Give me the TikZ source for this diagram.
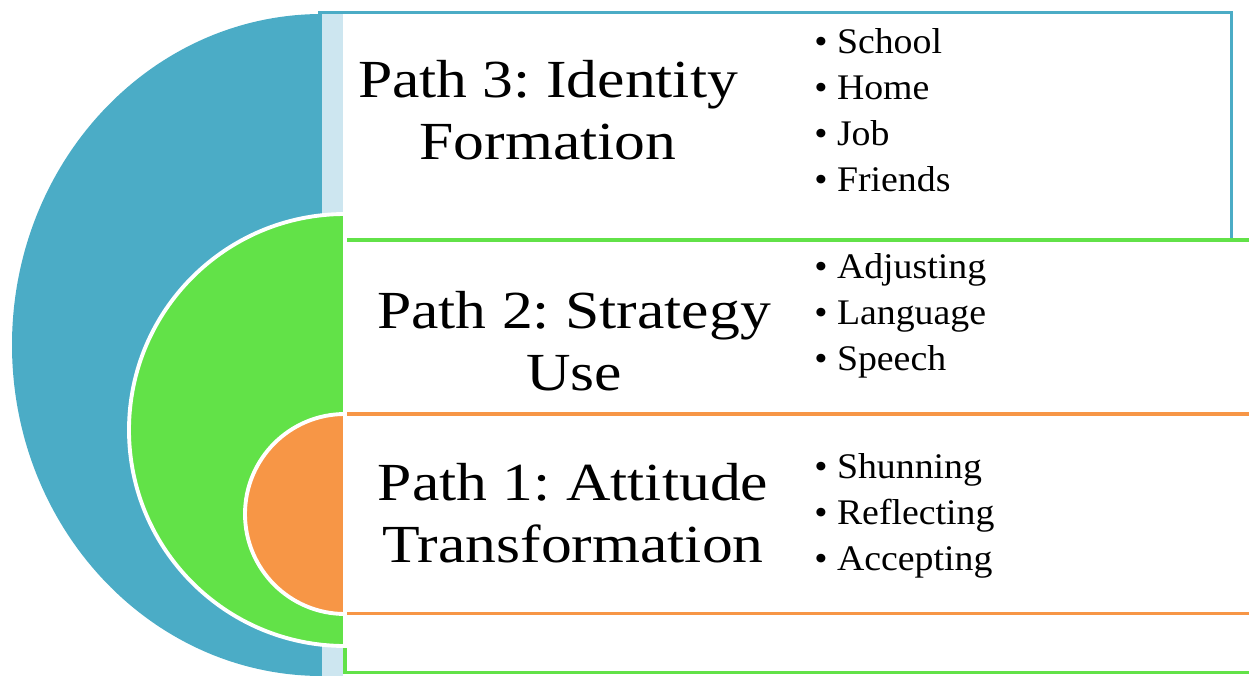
\documentclass[tikz,border=0pt]{standalone}
\usepackage{fontspec}
\setmainfont{Liberation Serif}
\newfontfamily\titlefont{Liberation Serif}[FakeStretch=1.15]
\newfontfamily\itemfont{Liberation Serif}[FakeStretch=1.05]
\usepackage{tikz}
\usetikzlibrary{positioning}
\definecolor{azul}{RGB}{75,172,198}
\definecolor{azulClaro}{RGB}{205,230,240}
\definecolor{verde}{RGB}{98,226,72}
\definecolor{naranja}{RGB}{247,150,70}
\tikzstyle{marco}=[line width=2.2pt]
\tikzstyle{disco}=[draw=white, line width=2.2pt]
\tikzstyle{titulo}=[align=center, inner sep=0pt,
                    font=\titlefont\frenchspacing\fontsize{30.5}{35}\selectfont]
\tikzstyle{item}=[anchor=base west, inner sep=0pt,
                  font=\itemfont\fontsize{20.5}{26}\selectfont]

\begin{document}
\begin{tikzpicture}[x=0.02cm,y=-0.02cm]
    \useasboundingbox (0,0) rectangle (1249,676);

    % path 3
    \begin{scope}
        \clip (0,0) rectangle (322,676);
        \fill[azul] (322,345) ellipse [x radius=310, y radius=331];
    \end{scope}
    \fill[white] (343,13) rectangle (1230,240);
    \draw[marco,azul] (318,12.5) -- (1231.5,12.5) -- (1231.5,240);
    \fill[azulClaro] (322,14) rectangle (343,676);
    \draw[azulClaro,line width=2.2pt,dotted] (1231.5,242) -- (1231.5,676);

    % path 2
    \draw[marco,verde,fill=white] (1260,240) -- (345,240) -- (345,672.5) -- (1260,672.5);
    \draw[disco,fill=verde] (345,214) arc [start angle=90, end angle=270,
        x radius=216, y radius=-216] -- cycle;

    % path 1
    \draw[marco,naranja,fill=white] (1260,414) -- (345,414) -- (345,613.5) -- (1260,613.5);
    \draw[disco,fill=naranja] (345,414) arc [start angle=90, end angle=270,
        x radius=100, y radius=-100] -- cycle;

    \draw (548,110) node(p3)[titulo]{Path 3: Identity\\Formation};
    \draw (574,341) node(p2)[titulo]{Path 2: Strategy\\Use};
    \draw (573,513) node(p1)[titulo]{Path 1: Attitude\\Transformation};

    \foreach \t [count=\i] in {School,Home,Job,Friends}
        \draw (814,{53+46.3*(\i-1)}) node(a\i)[item]{\textbullet~\t};
    \foreach \t [count=\i] in {Adjusting,Language,Speech}
        \draw (814,{278+46*(\i-1)}) node(b\i)[item]{\textbullet~\t};
    \foreach \t [count=\i] in {Shunning,Reflecting,Accepting}
        \draw (814,{478+46*(\i-1)}) node(c\i)[item]{\textbullet~\t};

\end{tikzpicture}
\end{document}
